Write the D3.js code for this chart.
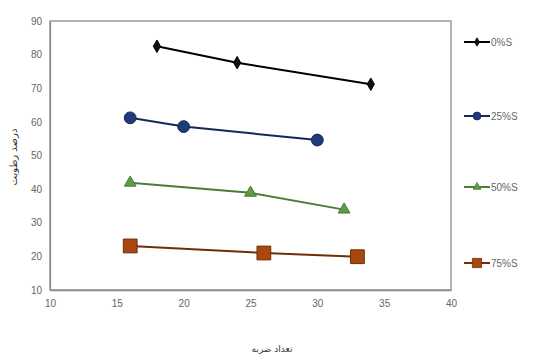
<!DOCTYPE html>
<html><head><meta charset="utf-8">
<script src="https://cdn.jsdelivr.net/npm/d3@7"></script>
<style>body{margin:0;background:#fff}svg{display:block}</style>
</head><body>
<svg id="c" width="535" height="356"></svg>
<script>
const xTicks = [10, 15, 20, 25, 30, 35, 40];
const yTicks = [10, 20, 30, 40, 50, 60, 70, 80, 90];
const seriesNames = ["0%S", "25%S", "50%S", "75%S"];
const s0x = [18, 24, 34], s0y = [82.5, 77.6, 71.2];
const s25x = [16, 20, 30], s25y = [61.2, 58.6, 54.6];
const s50x = [16, 25, 32], s50y = [41.9, 38.9, 33.9];
const s75x = [16, 26, 33], s75y = [23.1, 21.0, 19.9];
const xTitle = "تعداد ضربه";
const yTitle = "درصد رطوبت";

const seriesX = [s0x, s25x, s50x, s75x];
const seriesY = [s0y, s25y, s50y, s75y];
const colors = ["#111111", "#1f3a7a", "#5f9a45", "#a8470f"];
const strokes = ["#000000", "#14285a", "#4a7d35", "#6e2e08"];
const shapes = [d3.symbolDiamond, d3.symbolCircle, d3.symbolTriangle, d3.symbolSquare];
const sizes = [45, 110, 60, 190];

const svg = d3.select("#c");
const L = 50, R = 451, T = 21, B = 290;
const x = d3.scaleLinear().domain([10, 40]).range([L, R]);
const y = d3.scaleLinear().domain([10, 90]).range([B, T]);

svg.append("rect").attr("x", L).attr("y", T).attr("width", R - L).attr("height", B - T)
  .attr("fill", "none").attr("stroke", "#8c8c8c").attr("stroke-width", 1.3);

const xa = svg.append("g").attr("transform", `translate(0,${B})`)
  .call(d3.axisBottom(x).tickValues(xTicks).tickSize(0).tickPadding(10));
const ya = svg.append("g").attr("transform", `translate(${L},0)`)
  .call(d3.axisLeft(y).tickValues(yTicks).tickSize(0).tickPadding(8));
[xa, ya].forEach(a => {
  a.select(".domain").attr("stroke", "#8c8c8c").attr("stroke-width", 1.3);
  a.selectAll("text").attr("fill", "#666").style("font-family", "Liberation Sans, Arial, sans-serif").style("font-size", "10px");
});

const line = d3.line().x(d => x(d[0])).y(d => y(d[1]));
seriesX.forEach((xs, i) => {
  const pts = xs.map((v, j) => [v, seriesY[i][j]]);
  svg.append("path").datum(pts).attr("d", line).attr("fill", "none")
    .attr("stroke", strokes[i]).attr("stroke-width", 2);
  svg.selectAll(null).data(pts).enter().append("path")
    .attr("transform", d => `translate(${x(d[0])},${y(d[1])})`)
    .attr("d", d3.symbol().type(shapes[i]).size(sizes[i]))
    .attr("fill", colors[i]).attr("stroke", strokes[i]).attr("stroke-width", 1);
});

// legend
const legY = [42, 116, 187, 263];
seriesNames.forEach((n, i) => {
  const g = svg.append("g").attr("transform", `translate(0,${legY[i]})`);
  g.append("line").attr("x1", 464).attr("x2", 490).attr("y1", 0).attr("y2", 0)
    .attr("stroke", strokes[i]).attr("stroke-width", 2);
  g.append("path").attr("transform", "translate(477,0)")
    .attr("d", d3.symbol().type(shapes[i]).size(sizes[i] * 0.45))
    .attr("fill", colors[i]).attr("stroke", strokes[i]).attr("stroke-width", 0.8);
  g.append("text").attr("x", 491).attr("y", 4).text(n)
    .attr("fill", "#666").style("font-family", "Liberation Sans, Arial, sans-serif").style("font-size", "10px");
});

svg.append("text").attr("x", 272).attr("y", 352).attr("text-anchor", "middle")
  .attr("direction", "rtl").text(xTitle)
  .attr("fill", "#333").style("font-family", "DejaVu Sans, sans-serif").style("font-size", "9px");
svg.append("text").attr("transform", "translate(17,157) rotate(-90)").attr("text-anchor", "middle")
  .attr("direction", "rtl").text(yTitle)
  .attr("fill", "#333").style("font-family", "DejaVu Sans, sans-serif").style("font-size", "10px");
</script>
</body></html>
